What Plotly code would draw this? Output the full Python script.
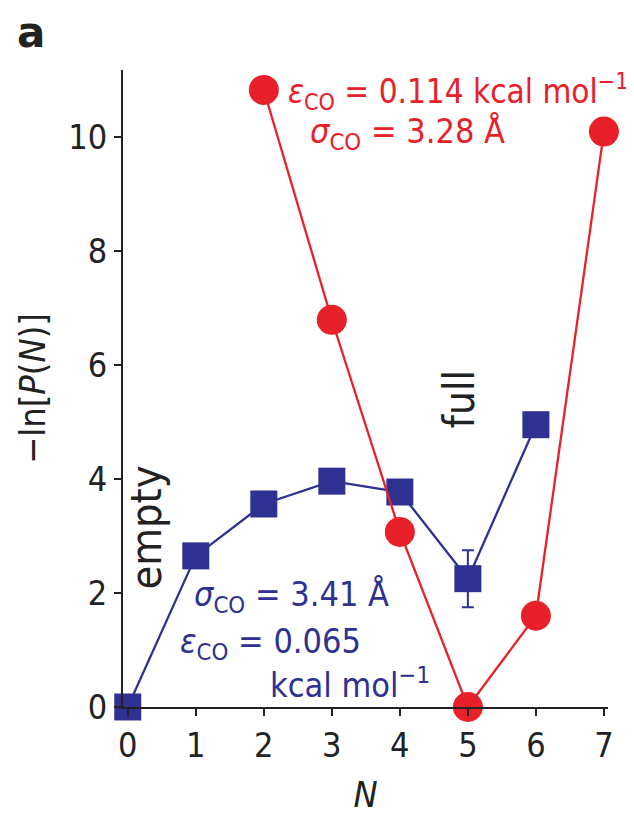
import plotly.graph_objects as go

# Data
n_red = [2, 3, 4, 5, 6, 7]
y_red = [10.82, 6.79, 3.07, 0.0, 1.6, 10.09]
n_blue = [0, 1, 2, 3, 4, 5, 6]
y_blue = [0.0, 2.65, 3.56, 3.96, 3.77, 2.25, 4.95]
err_blue = [0, 0, 0, 0, 0, 0.5, 0]
x_ticks = [0, 1, 2, 3, 4, 5, 6, 7]
y_ticks = [0, 2, 4, 6, 8, 10]

RED = "#e8202a"
BLUE = "#2e3192"
FONT = "DejaVu Sans Condensed, DejaVu Sans, sans-serif"

fig = go.Figure()
fig.add_trace(go.Scatter(
    x=n_blue, y=y_blue, mode="lines+markers",
    line=dict(color=BLUE, width=2.3),
    marker=dict(symbol="square", size=27, color=BLUE),
    error_y=dict(type="data", array=err_blue, color=BLUE, thickness=2, width=6),
    cliponaxis=False, showlegend=False))
fig.add_trace(go.Scatter(
    x=n_red, y=y_red, mode="lines+markers",
    line=dict(color=RED, width=2.3),
    marker=dict(symbol="circle", size=30, color=RED),
    cliponaxis=False, showlegend=False))

ann = []
def t(x, y, text, color, size=34, angle=0, xanchor="left"):
    ann.append(dict(x=x, y=y, xref="x", yref="y", text=text, showarrow=False,
                    font=dict(color=color, size=size, family=FONT),
                    xanchor=xanchor, yanchor="middle", textangle=angle))

t(2.33, 10.8, "<i>ε</i><sub>CO</sub> = 0.114 kcal mol<sup>−1</sup>", RED, size=33)
t(2.65, 10.06, "<i>σ</i><sub>CO</sub> = 3.28 Å", RED)
t(0.94, 1.93, "<i>σ</i><sub>CO</sub> = 3.41 Å", BLUE)
t(0.74, 1.12, "<i>ε</i><sub>CO</sub> = 0.065", BLUE)
t(2.06, 0.42, "kcal mol<sup>−1</sup>", BLUE)
t(0.27, 3.15, "empty", "#222222", size=43, angle=-90, xanchor="center")
t(4.88, 5.39, "full", "#222222", size=42, angle=-90, xanchor="center")

ann.append(dict(x=-0.222, y=1.1, xref="paper", yref="paper", text="<b>a</b>",
                showarrow=False, font=dict(size=42, color="#222222", family="DejaVu Sans"),
                xanchor="left", yanchor="top"))

fig.update_layout(
    width=626, height=819,
    margin=dict(l=115, r=26, t=62, b=120, autoexpand=False),
    paper_bgcolor="white", plot_bgcolor="white",
    font=dict(family=FONT, size=32, color="#222222"),
    annotations=ann,
    xaxis=dict(range=[-0.07, 7.06], tickvals=x_ticks, ticks="outside", ticklen=7,
               tickwidth=2, tickcolor="#222222", showline=True, linecolor="#222222",
               linewidth=2, showgrid=False, zeroline=False, automargin=False,
               tickfont=dict(size=34, family=FONT),
               title=dict(text="<i>N</i>", font=dict(size=36, family=FONT), standoff=18)),
    yaxis=dict(range=[0, 11.17], tickvals=y_ticks, ticks="outside", ticklen=7,
               tickwidth=2, tickcolor="#222222", showline=True, linecolor="#222222",
               linewidth=2, showgrid=False, zeroline=False, automargin=False,
               tickfont=dict(size=34, family=FONT),
               title=dict(text="−ln[<i>P</i>(<i>N</i>)]", font=dict(size=36, family=FONT), standoff=12)),
)

fig.write_html("out.html")
